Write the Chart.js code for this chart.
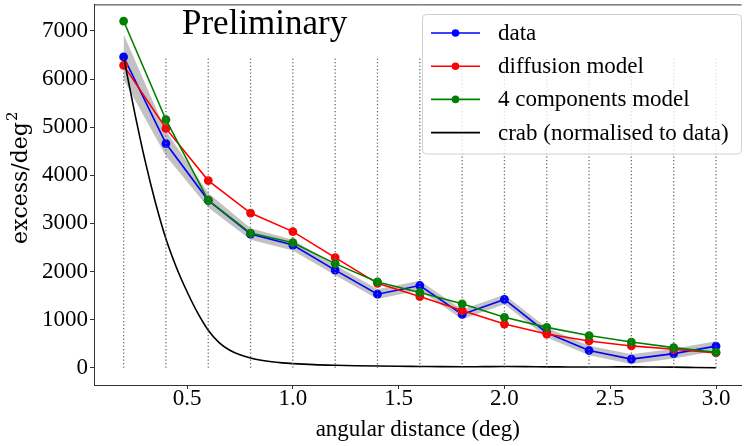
<!DOCTYPE html>
<html>
<head>
<meta charset="utf-8">
<script src="https://cdn.jsdelivr.net/npm/chart.js@4/dist/chart.umd.min.js"></script>
<style>
  html, body { margin: 0; padding: 0; background: #fff; overflow: hidden; }
</style>
</head>
<body>
<canvas id="profile" width="746" height="446"></canvas>
<script>
const SERIF = '"Liberation Serif", "DejaVu Serif", serif'
const MATH_SERIF = '"DejaVu Serif", serif'

// radial bins (deg)
const angles = [0.2, 0.4, 0.6, 0.8, 1.0, 1.2, 1.4, 1.6, 1.8, 2.0, 2.2, 2.4, 2.6, 2.8, 3.0]
const dataValues = [6460, 4660, 3480, 2780, 2550, 2030, 1530, 1710, 1110, 1420, 730, 360, 180, 295, 450]
const dataErrors = [470, 260, 150, 120, 110, 105, 100, 100, 100, 100, 100, 100, 100, 100, 100]
const diffusionValues = [6285, 4975, 3890, 3215, 2830, 2290, 1755, 1480, 1190, 910, 702, 558, 455, 385, 310]
const componentsValues = [7205, 5155, 3480, 2800, 2600, 2165, 1785, 1565, 1330, 1050, 840, 670, 535, 420, 325]

// crab profile, normalised to the first data bin
const crabAngles = [0.2, 0.25, 0.3, 0.35, 0.4, 0.45, 0.5, 0.55, 0.6, 0.65, 0.7, 0.75, 0.8, 0.85, 0.9, 0.95, 1.0,
                    1.1, 1.2, 1.3, 1.4, 1.5, 1.6, 1.7, 1.8, 1.9, 2.0, 2.1, 2.2, 2.3, 2.4, 2.5, 2.6, 2.7, 2.8, 2.9, 3.0]
const crabValues = [6460, 5350, 4330, 3440, 2680, 2080, 1580, 1140, 780, 530, 370, 270, 205, 158, 125, 103, 88,
                    66, 53, 44, 37, 32, 28, 24, 22, 24, 26, 24, 20, 18, 16, 18, 20, 18, 14, 8, 2]

const guideTop = 6470
const xTicks = [0.5, 1.0, 1.5, 2.0, 2.5, 3.0]
const yTicks = [0, 1000, 2000, 3000, 4000, 5000, 6000, 7000]

const legendNames = ["data", "diffusion model", "4 components model", "crab (normalised to data)"]
const legendColors = ["#0000ff", "#ff0000", "#008000", "#000000"]
const legendMarkers = [true, true, true, false]

const pts = (xs, ys) => xs.map((x, i) => ({ x: x, y: ys[i] }))

const datasets = [
  {
    label: "band-low",
    data: pts(angles, dataValues.map((v, i) => v - dataErrors[i])),
    borderWidth: 0, pointRadius: 0, fill: false, order: 20,
  },
  {
    label: "band-high",
    data: pts(angles, dataValues.map((v, i) => v + dataErrors[i])),
    borderWidth: 0, pointRadius: 0, fill: "-1",
    backgroundColor: "rgba(128,128,128,0.48)", order: 19,
  },
]

const series = [dataValues, diffusionValues, componentsValues]
series.forEach((vals, i) => {
  datasets.push({
    label: legendNames[i],
    data: pts(angles, vals),
    borderColor: legendColors[i],
    backgroundColor: legendColors[i],
    borderWidth: 1.6,
    pointRadius: 4.4,
    pointBorderWidth: 0,
    fill: false,
    order: 18 - i,
  })
})

datasets.push({
  label: legendNames[3],
  data: pts(crabAngles, crabValues),
  borderColor: "#000",
  borderWidth: 1.6,
  pointRadius: 0,
  cubicInterpolationMode: "monotone",
  fill: false,
  order: 10,
})

// dotted guides at each bin
angles.forEach((a) => {
  datasets.push({
    label: "guide",
    data: [{ x: a, y: 0 }, { x: a, y: guideTop }],
    borderColor: "#6a6a6a",
    borderWidth: 1.3,
    borderDash: [1.4, 2.1],
    pointRadius: 0,
    fill: false,
    order: 1,
  })
})

const decorations = {
  id: "decorations",
  afterDraw(chart) {
    const ctx = chart.ctx
    const area = chart.chartArea
    ctx.save()
    // top spine
    ctx.strokeStyle = "#333"
    ctx.lineWidth = 1
    ctx.beginPath()
    ctx.moveTo(area.left, area.top + 0.5)
    ctx.lineTo(area.right, area.top + 0.5)
    ctx.stroke()

    ctx.fillStyle = "#000"
    ctx.font = `35px ${SERIF}`
    ctx.textBaseline = "alphabetic"
    ctx.textAlign = "left"
    ctx.fillText("Preliminary", 182, 34)

    // y axis title with a real superscript
    ctx.save()
    ctx.translate(27, 244)
    ctx.rotate(-Math.PI / 2)
    ctx.font = `22px ${MATH_SERIF}`
    ctx.textBaseline = "alphabetic"
    ctx.fillText("excess/deg", 0, 0)
    const w = ctx.measureText("excess/deg").width
    ctx.font = `15px ${MATH_SERIF}`
    ctx.fillText("2", w + 1, -10)
    ctx.restore()

    // legend box
    const bx = 422.5, by = 14.5, bw = 319, bh = 139.5, r = 4
    ctx.beginPath()
    ctx.moveTo(bx + r, by)
    ctx.lineTo(bx + bw - r, by)
    ctx.quadraticCurveTo(bx + bw, by, bx + bw, by + r)
    ctx.lineTo(bx + bw, by + bh - r)
    ctx.quadraticCurveTo(bx + bw, by + bh, bx + bw - r, by + bh)
    ctx.lineTo(bx + r, by + bh)
    ctx.quadraticCurveTo(bx, by + bh, bx, by + bh - r)
    ctx.lineTo(bx, by + r)
    ctx.quadraticCurveTo(bx, by, bx + r, by)
    ctx.closePath()
    ctx.fillStyle = "rgba(255,255,255,0.8)"
    ctx.fill()
    ctx.strokeStyle = "#d0d0d0"
    ctx.stroke()

    ctx.font = `23px ${SERIF}`
    ctx.textBaseline = "middle"
    legendNames.forEach((name, i) => {
      const y = 33 + i * 33.2
      ctx.strokeStyle = legendColors[i]
      ctx.lineWidth = 1.6
      ctx.beginPath()
      ctx.moveTo(431, y)
      ctx.lineTo(480, y)
      ctx.stroke()
      if (legendMarkers[i]) {
        ctx.fillStyle = legendColors[i]
        ctx.beginPath()
        ctx.arc(455.5, y, 3.8, 0, Math.PI * 2)
        ctx.fill()
      }
      ctx.fillStyle = "#000"
      ctx.fillText(name, 498, y + 1)
    })
    ctx.restore()
  },
}

new Chart(document.getElementById("profile"), {
  type: "line",
  data: { datasets: datasets },
  options: {
    responsive: false,
    animation: false,
    devicePixelRatio: 1,
    layout: { padding: { top: 2, right: 0, bottom: 0, left: 0 } },
    plugins: { legend: { display: false }, tooltip: { enabled: false } },
    scales: {
      x: {
        type: "linear",
        min: 0.06,
        max: 3.121,
        afterBuildTicks: (scale) => { scale.ticks = xTicks.map((v) => ({ value: v })) },
        afterFit: (scale) => {
          scale.height = 61
          scale.paddingLeft = 0
          scale.paddingRight = 0
        },
        ticks: {
          font: { family: SERIF, size: 23 },
          color: "#000",
          padding: -4,
          maxRotation: 0,
          callback: (v) => v.toFixed(1),
        },
        grid: { drawOnChartArea: false, tickLength: 4, tickColor: "#333" },
        border: { color: "#333", width: 1 },
        title: {
          display: true,
          text: "angular distance (deg)",
          font: { family: SERIF, size: 23 },
          color: "#000",
          padding: { top: 0, bottom: 2 },
        },
      },
      y: {
        type: "linear",
        min: -357,
        max: 7551,
        afterBuildTicks: (scale) => { scale.ticks = yTicks.map((v) => ({ value: v })) },
        afterFit: (scale) => {
          scale.width = 94
          scale.paddingTop = 0
          scale.paddingBottom = 0
        },
        ticks: {
          font: { family: SERIF, size: 23 },
          color: "#000",
          padding: 2,
          callback: (v) => String(v),
        },
        grid: { drawOnChartArea: false, tickLength: 4, tickColor: "#333" },
        border: { color: "#333", width: 1 },
        title: { display: false },
      },
    },
  },
  plugins: [decorations],
})
</script>
</body>
</html>
